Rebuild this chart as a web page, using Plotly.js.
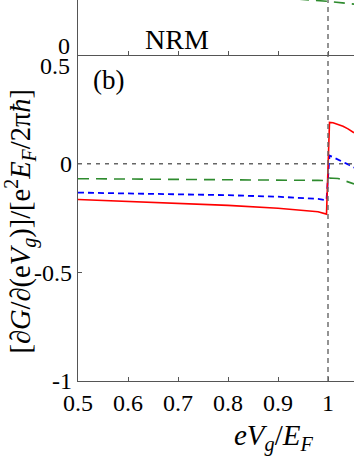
<!DOCTYPE html>
<html>
<head>
<meta charset="utf-8">
<script src="https://cdn.plot.ly/plotly-3.0.1.min.js"></script>
<style>
  html, body { margin: 0; padding: 0; background: #fff; }
  #chart { width: 354px; height: 458px; }
</style>
</head>
<body>
<div id="chart"></div>
<script>
// panel (b): gate-voltage derivative of conductance
const xVals = [0.5, 0.6, 0.7, 0.8, 0.9, 0.95, 0.98, 0.997, 1.003, 1.01, 1.02, 1.03, 1.04, 1.052];
const redVals = [-0.165, -0.173, -0.182, -0.192, -0.205, -0.213, -0.221, -0.232, 0.19, 0.188, 0.181, 0.172, 0.16, 0.142];
const blueVals = [-0.133, -0.136, -0.14, -0.145, -0.152, -0.157, -0.162, -0.168, 0.037, 0.03, 0.02, 0.01, -0.003, -0.018];
const greenVals = [-0.069, -0.07, -0.071, -0.073, -0.075, -0.076, -0.077, -0.078, -0.066, -0.067, -0.068, -0.076, -0.084, -0.093];

// upper panel (only its bottom strip is visible)
const topX = [0.94, 1.0, 1.052];
const topGreen = [0.61, 0.585, 0.555];

const xTicks = [0.5, 0.6, 0.7, 0.8, 0.9, 1];
const xTickText = ["0.5", "0.6", "0.7", "0.8", "0.9", "1"];
const yTicks = [0, -0.5, -1];
const yTickText = ["0", "-0.5", "-1"];

const FONT = "Liberation Serif, Times New Roman, serif";
const AXC = "#555";

const traces = [
  { x: topX, y: topGreen, xaxis: "x2", yaxis: "y2", mode: "lines",
    line: { color: "#2e8b2e", width: 1.6, dash: "11px,7px" } },
  { x: xVals, y: greenVals, mode: "lines",
    line: { color: "#2e8b2e", width: 1.6, dash: "11px,7px" } },
  { x: xVals, y: blueVals, mode: "lines",
    line: { color: "#0000ff", width: 1.8, dash: "6px,4px" } },
  { x: xVals, y: redVals, mode: "lines",
    line: { color: "#ff0000", width: 1.6 } },
];

const baseX = {
  range: [0.5, 1.052], showgrid: false, zeroline: false,
  showline: true, linecolor: AXC, linewidth: 1.3,
  ticks: "inside", ticklen: 4, tickcolor: AXC,
  tickvals: xTicks, ticktext: xTickText,
  tickfont: { family: FONT, size: 24, color: "#000" },
};

// small helper so every label is centred on its point
const label = (text, x, y, size, extra) => Object.assign({
  text: text, xref: "paper", yref: "paper", x: x, y: y,
  xanchor: "center", yanchor: "middle", showarrow: false,
  font: { family: FONT, size: size, color: "#000" },
}, extra || {});

const layout = {
  width: 354, height: 458,
  margin: { l: 78, r: 0, t: 0, b: 77 },
  paper_bgcolor: "#fff", plot_bgcolor: "#fff",
  showlegend: false,
  font: { family: FONT, color: "#000" },
  xaxis: Object.assign({}, baseX, { anchor: "y" }),
  yaxis: {
    domain: [0, 0.8556], range: [-1, 0.5], showgrid: false, zeroline: false,
    showline: true, linecolor: AXC, linewidth: 1.3,
    ticks: "inside", ticklen: 4, tickcolor: AXC,
    tickvals: yTicks, ticktext: yTickText,
    tickfont: { family: FONT, size: 24, color: "#000" },
  },
  xaxis2: Object.assign({}, baseX, { anchor: "y2", showticklabels: false }),
  yaxis2: {
    domain: [0.8556, 1], range: [0, 0.6], showgrid: false, zeroline: false,
    showline: true, linecolor: AXC, linewidth: 1.3,
    ticks: "", showticklabels: false,
  },
  shapes: [
    { type: "line", xref: "x", yref: "paper", x0: 1, x1: 1, y0: 0, y1: 1,
      line: { color: "#666", width: 1.4, dash: "5px,4px" } },
    { type: "line", xref: "paper", yref: "y", x0: 0, x1: 1, y0: 0, y1: 0,
      line: { color: "#666", width: 1.4, dash: "4px,5px" } },
  ],
  annotations: [
    label("NRM", 0.359, 0.897, 28),
    label("(b)", 0.109, 0.79, 27),
    label("0", -0.022, 0.879, 24, { xanchor: "right" }),
    label("0.5", -0.022, 0.827, 24, { xanchor: "right" }),
    label("<i>eV</i><sub><i>g</i></sub>/<i>E</i><sub><i>F</i></sub>", 0.71, -0.148, 29),
    label("[∂<i>G</i>/∂(e<i>V</i><sub><i>g</i></sub>)]/[e<sup>2</sup><i>E</i><sub><i>F</i></sub>/2π<i>ħ</i>]",
      -0.208, 0.42, 28.5, { textangle: -90 }),
  ],
};

Plotly.newPlot("chart", traces, layout, { staticPlot: true, displayModeBar: false });
</script>
</body>
</html>
